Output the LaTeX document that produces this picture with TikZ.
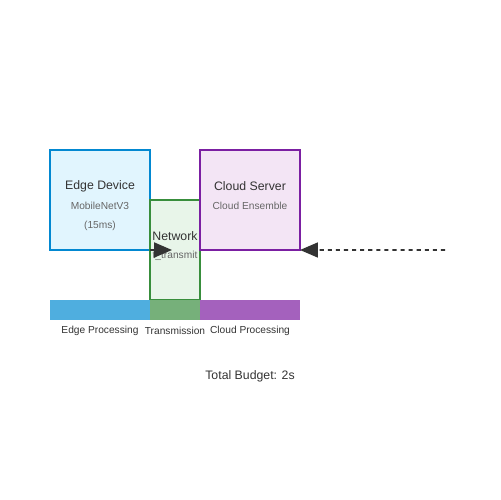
\documentclass[tikz,border=0pt]{standalone}
\usepackage{fontspec}
\setmainfont{Liberation Sans}
\usepackage{tikz}
\usetikzlibrary{arrows.meta,positioning}

\definecolor{edgeline}{HTML}{0288D1}
\definecolor{edgefill}{HTML}{E1F5FE}
\definecolor{netline}{HTML}{388E3C}
\definecolor{netfill}{HTML}{E8F5E9}
\definecolor{cloudline}{HTML}{7B1FA2}
\definecolor{cloudfill}{HTML}{F3E5F5}
\definecolor{edgebar}{HTML}{4FAEDF}
\definecolor{netbar}{HTML}{76B07A}
\definecolor{cloudbar}{HTML}{A461BD}
\definecolor{ink}{HTML}{333333}
\definecolor{subink}{HTML}{666666}

\begin{document}
\begin{tikzpicture}[x=0.02cm, y=-0.02cm, line width=1.1pt,
    box/.style = {draw, rectangle, inner sep=0pt, outer sep=0pt},
    title/.style = {text=ink, font=\fontsize{7pt}{8pt}\selectfont},
    sub/.style = {text=subink, font=\fontsize{5.8pt}{7pt}\selectfont},
    bar/.style = {rectangle, inner sep=0pt, minimum width=#1, minimum height=0.4cm},
    arr/.style = {draw=ink, -{Triangle[length=0.36cm, width=0.3cm]}}]
        \useasboundingbox (0,0) rectangle (500,500);

        % boxes
        \node[box, draw=edgeline, fill=edgefill, minimum width=2cm, minimum height=2cm] (edge) at (100,200) {};
        \node[box, draw=netline, fill=netfill, minimum width=1cm, minimum height=2cm] (net) at (175,250) {};
        \node[box, draw=cloudline, fill=cloudfill, minimum width=2cm, minimum height=2cm] (cloud) at (250,200) {};

        % box texts
        \node[title] (edgename) at (100,186) {Edge Device};
        \node[sub] (edgemodel) at (100,206) {MobileNetV3};
        \node[sub] (edgetime) at (100,226) {(15ms)};
        \node[title] (netname) at (175,236) {Network};
        \node[sub] (nettime) at (175,256) {t\_transmit};
        \node[title] (cloudname) at (250,186) {Cloud Server};
        \node[sub] (cloudmodel) at (250,206) {Cloud Ensemble};

        % arrows
        \coordinate (edgeout) at (172,250);
        \coordinate (back) at (445,250);
        \draw[arr] (edge.south east) -- (edgeout);
        \draw[arr, line width=1pt, dash pattern=on 2.3pt off 2.3pt] (back) -- (cloud.south east);

        % timeline
        \node[bar=2cm, fill=edgebar] (edgebar) at (100,310) {};
        \node[bar=1cm, fill=netbar] (netbar) at (175,310) {};
        \node[bar=2cm, fill=cloudbar] (cloudbar) at (250,310) {};
        \node[sub, text=ink] (edgelabel) at (100,331) {Edge Processing};
        \node[sub, text=ink] (netlabel) at (175,331) {Transmission};
        \node[sub, text=ink] (cloudlabel) at (250,331) {Cloud Processing};

        \node[title] (budget) at (250,376) {Total Budget: 2s};
\end{tikzpicture}
\end{document}
